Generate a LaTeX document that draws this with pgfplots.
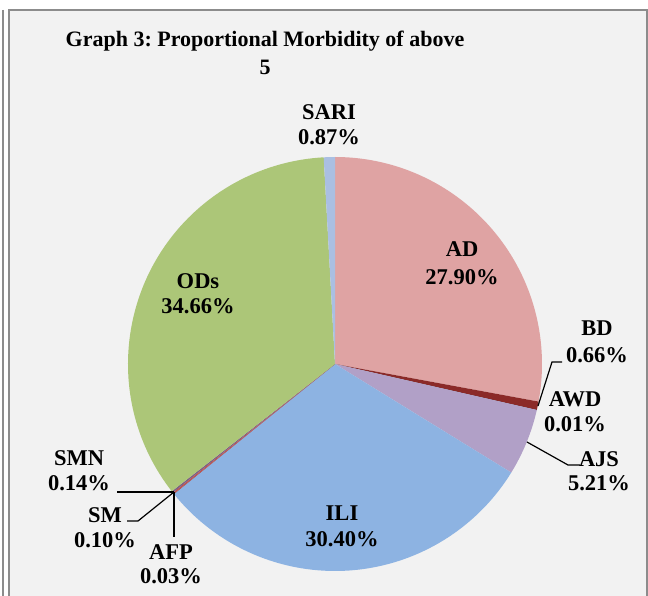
\documentclass[border=0pt]{standalone}
\usepackage{pgfplots}
\usepackage{pgfplotstable}
\usepackage{fontspec}
\setmainfont{Liberation Serif}
\pgfplotsset{compat=1.18}
\frenchspacing
\definecolor{bgcol}{HTML}{F2F2F2}
\definecolor{framecol}{HTML}{8C8C8C}
\definecolor{cAD}{HTML}{DFA3A3}
\definecolor{cBD}{HTML}{8B2A28}
\definecolor{cAWD}{HTML}{4F81BD}
\definecolor{cAJS}{HTML}{B1A0C7}
\definecolor{cILI}{HTML}{8DB3E2}
\definecolor{cAFP}{HTML}{953735}
\definecolor{cSM}{HTML}{C0504D}
\definecolor{cSMN}{HTML}{7F6084}
\definecolor{cODs}{HTML}{ACC678}
\definecolor{cSARI}{HTML}{AABFE2}
\pgfplotstableread[col sep=comma]{
name,value,col
AD,27.90,cAD
BD,0.66,cBD
AWD,0.01,cAWD
AJS,5.21,cAJS
ILI,30.40,cILI
AFP,0.03,cAFP
SM,0.10,cSM
SMN,0.14,cSMN
ODs,34.66,cODs
SARI,0.87,cSARI
}\piedata
\newcommand{\lab}[5]{%
  \node[anchor=base,inner sep=0pt,font=\bfseries\fontsize{22.5}{26}\selectfont] at (axis cs:#1,#2) {#4};
  \node[anchor=base,inner sep=0pt,font=\bfseries\fontsize{22.5}{26}\selectfont] at (axis cs:#1,#3) {#5};}
\begin{document}
\begin{tikzpicture}
\fill[white] (0,0) rectangle (648pt,596pt);
\begin{axis}[
  x=1pt, y=1pt, scale only axis,
  xmin=0, xmax=648, ymin=0, ymax=596,
  y dir=reverse,
  hide axis, clip=false,
  at={(0,0)}, anchor=south west,
]
% frame
\fill[bgcol] (axis cs:9,10) rectangle (axis cs:647,596);
\draw[framecol, line width=2pt] (axis cs:9,596) -- (axis cs:9,10) -- (axis cs:647,10) -- (axis cs:647,596);
\draw[framecol, line width=2pt] (axis cs:3,10) -- (axis cs:3,596);
% pie slices from the table
\pgfplotstablegetrowsof{\piedata}
\pgfmathtruncatemacro\nrows{\pgfplotsretval-1}
\def\total{0}
\pgfplotsforeachungrouped \i in {0,...,\nrows}{%
  \pgfplotstablegetelem{\i}{value}\of\piedata
  \pgfmathsetmacro\total{\total+\pgfplotsretval}%
}
\def\cum{0}
\pgfplotsforeachungrouped \i in {0,...,\nrows}{%
  \pgfplotstablegetelem{\i}{value}\of\piedata \let\sliceval\pgfplotsretval
  \pgfplotstablegetelem{\i}{col}\of\piedata \let\slicecol\pgfplotsretval
  \pgfmathsetmacro\anga{90-360*(\cum/\total)}%
  \pgfmathsetmacro\cum{\cum+\sliceval}%
  \pgfmathsetmacro\angb{90-360*(\cum/\total)}%
  \edef\temp{\noexpand\fill[\slicecol] (axis cs:335,364) -- ++(\anga:207pt) arc[start angle=\anga, end angle=\angb, radius=207pt] -- cycle;}%
  \temp
}
% leader lines
\draw[black, line width=1.2pt] (axis cs:538,406) -- (axis cs:552,362) -- (axis cs:562,362);
\draw[black, line width=1.2pt] (axis cs:527,442) -- (axis cs:568,465) -- (axis cs:580,465);
\draw[black, line width=1.2pt] (axis cs:174,492) -- (axis cs:117,492);
\draw[black, line width=1.2pt] (axis cs:174,492) -- (axis cs:138,521) -- (axis cs:127,521);
\draw[black, line width=1.2pt] (axis cs:174,492) -- (axis cs:174,537);
% title
\node[anchor=base,inner sep=0pt,font=\bfseries\fontsize{22}{28}\selectfont] at (axis cs:265,47) {Graph 3: Proportional Morbidity of above};
\node[anchor=base,inner sep=0pt,font=\bfseries\fontsize{22}{28}\selectfont] at (axis cs:265,75) {5};
% labels
\lab{329}{120}{145}{SARI}{0.87\%}
\lab{462}{257}{284}{AD}{27.90\%}
\lab{198}{288}{313}{ODs}{34.66\%}
\lab{597}{335}{362}{BD}{0.66\%}
\lab{575}{406}{431}{AWD}{0.01\%}
\lab{599}{466}{490}{AJS}{5.21\%}
\lab{342}{520}{546}{ILI}{30.40\%}
\lab{79}{465}{490}{SMN}{0.14\%}
\lab{105}{522}{547}{SM}{0.10\%}
\lab{171}{559}{583}{AFP}{0.03\%}
\end{axis}
\pgfresetboundingbox
\path[use as bounding box] (0,0) rectangle (648pt,596pt);
\end{tikzpicture}
\end{document}
